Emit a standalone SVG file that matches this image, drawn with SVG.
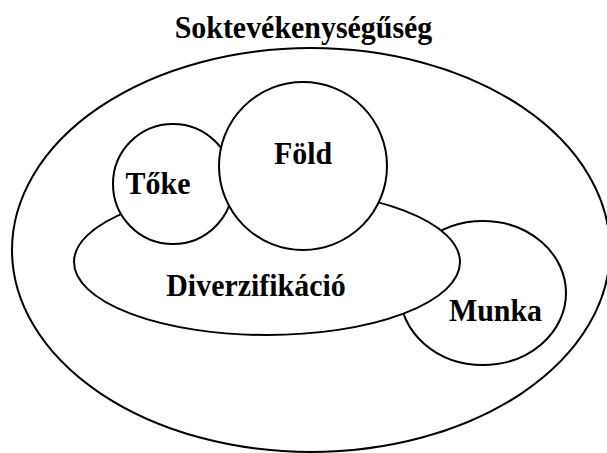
<svg xmlns="http://www.w3.org/2000/svg" width="607" height="453" viewBox="0 0 607 453">
<style>
.s{fill:#fff;stroke:#000;stroke-width:2}
.t{font-family:"Liberation Serif","Times New Roman",serif;font-weight:bold;font-size:31.5px;fill:#000;text-anchor:middle}
</style>
<rect width="607" height="453" fill="#fff"/>
<g id="soktevekenyseg">
<ellipse class="s" cx="311" cy="250" rx="299" ry="202"/>
<text class="t" transform="translate(303.5 38) scale(0.95 1)">Soktevékenységűség</text>
</g>
<g id="munka">
<ellipse class="s" cx="483" cy="293" rx="83" ry="72"/>
<text class="t" transform="translate(495.5 321) scale(0.95 1)">Munka</text>
</g>
<g id="diverzifikacio">
<ellipse class="s" cx="267" cy="262" rx="193" ry="73"/>
<text class="t" transform="translate(256 296) scale(0.95 1)">Diverzifikáció</text>
</g>
<g id="toke">
<circle class="s" cx="173" cy="184" r="60"/>
<text class="t" transform="translate(158 194) scale(0.95 1)">Tőke</text>
</g>
<g id="fold">
<circle class="s" cx="303" cy="166" r="84"/>
<text class="t" transform="translate(303 164) scale(0.95 1)">Föld</text>
</g>
<g id="connectors"/>
</svg>
